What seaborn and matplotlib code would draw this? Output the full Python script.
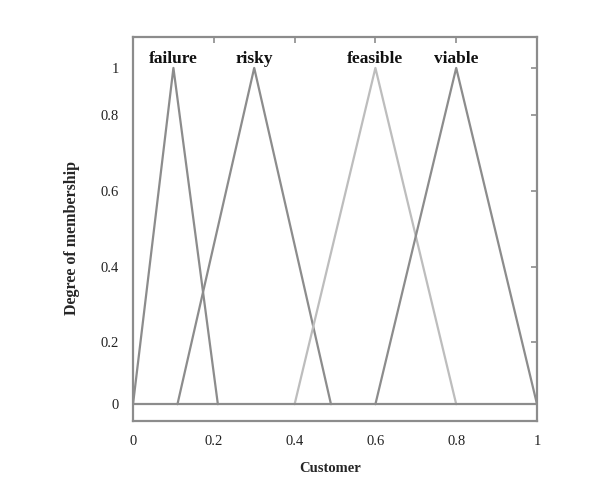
import pandas as pd
import matplotlib.pyplot as plt
import seaborn as sns

# Funções de pertinência triangulares
labels = ['failure', 'risky', 'feasible', 'viable']
x_failure = [0.0, 0.1, 0.21]
x_risky = [0.11, 0.3, 0.49]
x_feasible = [0.4, 0.6, 0.8]
x_viable = [0.6, 0.8, 1.0]
y_tri = [0.0, 1.0, 0.0]
peaks = [0.1, 0.3, 0.6, 0.8]
colors = ['#8c8c8c', '#8c8c8c', '#bdbdbd', '#8c8c8c']

# marcas do eixo y como aparecem na figura original (espaçamento irregular)
ytick_pos = [0, 0.185, 0.408, 0.634, 0.860, 1.0]
ytick_lab = ['0', '0.2', '0.4', '0.6', '0.8', '1']
xtick_pos = [0, 0.2, 0.4, 0.6, 0.8, 1]
xtick_lab = ['0', '0.2', '0.4', '0.6', '0.8', '1']

rows = []
for name, xs in zip(labels, [x_failure, x_risky, x_feasible, x_viable]):
    for xv, yv in zip(xs, y_tri):
        rows.append({'set': name, 'x': xv, 'y': yv})
df = pd.DataFrame(rows)

sns.set_style('white')
plt.rcParams['font.family'] = ['Liberation Serif', 'DejaVu Serif']

fig = plt.figure(figsize=(6, 4.92), dpi=100)
ax = fig.add_axes([0.2217, 0.1443, 0.6733, 0.7805])

sns.lineplot(data=df, x='x', y='y', hue='set', palette=dict(zip(labels, colors)),
             sort=False, estimator=None, linewidth=1.6, legend=False, ax=ax)
ax.axhline(0, color='#8c8c8c', linewidth=1.6)

for name, px in zip(labels, peaks):
    ax.text(px, 1.015, name, ha='center', va='baseline', fontsize=12.5,
            fontweight='bold', color='#111111')

ax.set_xlim(0, 1)
ax.set_ylim(-0.05, 1.092)
ax.set_xticks(xtick_pos)
ax.set_xticklabels(xtick_lab)
ax.set_yticks(ytick_pos)
ax.set_yticklabels(ytick_lab)
ax.tick_params(direction='in', length=4, width=1.2, color='#8c8c8c',
               top=True, right=True, labelsize=10.5, labelcolor='#222222', pad=10)
for s in ax.spines.values():
    s.set_color('#8c8c8c')
    s.set_linewidth(1.6)

ax.set_xlabel('Customer', fontsize=10.5, fontweight='bold')
ax.set_ylabel('Degree of membership', fontsize=11.5, fontweight='bold')
ax.xaxis.set_label_coords(0.488, -0.107)
ax.yaxis.set_label_coords(-0.131, 0.477)

fig.savefig('out.png', dpi=100)
